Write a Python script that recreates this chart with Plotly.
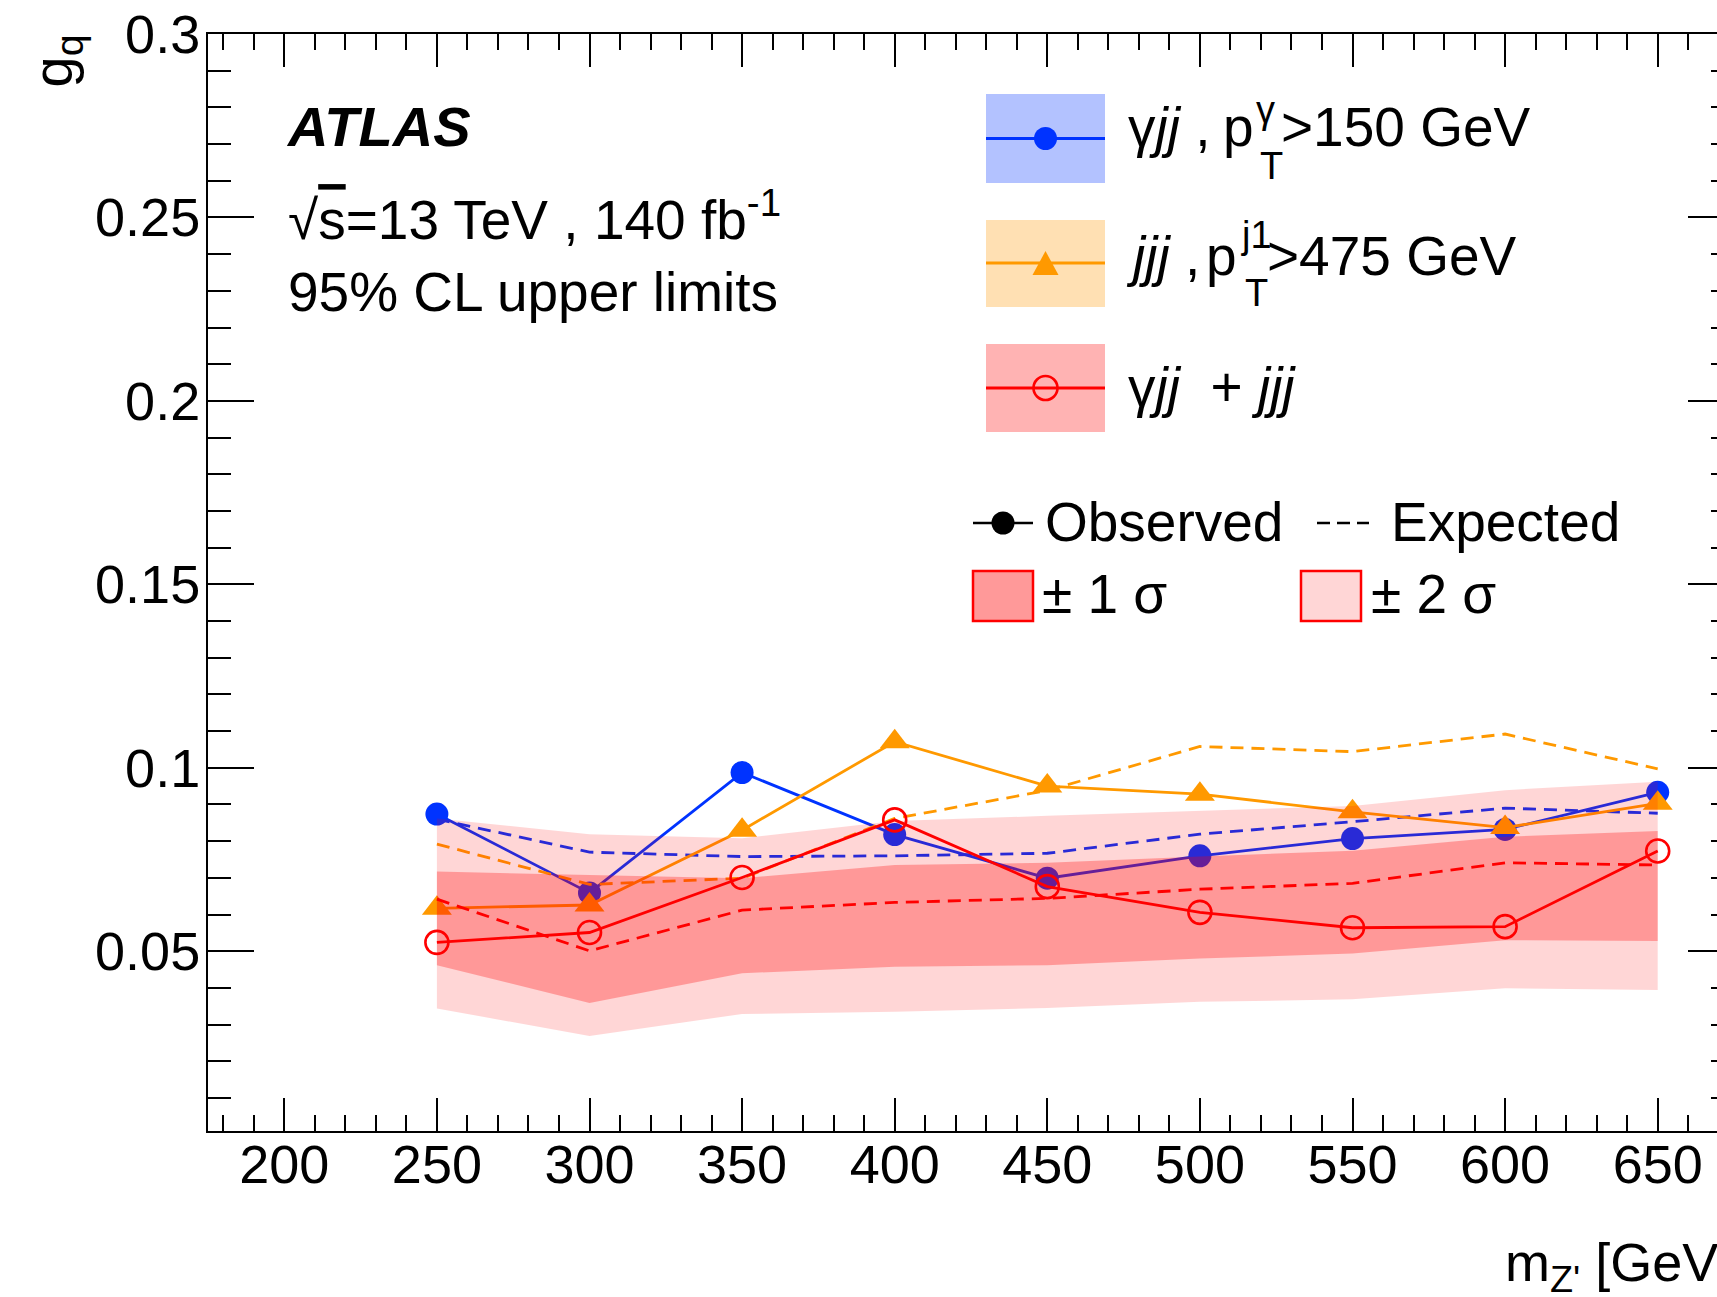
import plotly.graph_objects as go

# Z' mass points [GeV]
mass = [250, 300, 350, 400, 450, 500, 550, 600, 650]

# 95% CL upper limits on g_q
gjj_obs = [0.0874, 0.0659, 0.0987, 0.0818, 0.0699, 0.0760, 0.0807, 0.0832, 0.0933]
gjj_exp = [0.0860, 0.0770, 0.0758, 0.0760, 0.0767, 0.0819, 0.0853, 0.0890, 0.0876]
jjj_obs = [0.0617, 0.0626, 0.0830, 0.1071, 0.0950, 0.0928, 0.0880, 0.0837, 0.0903]
jjj_exp = [0.0792, 0.0682, 0.0699, 0.0862, 0.0938, 0.1058, 0.1044, 0.1092, 0.0997]
comb_obs = [0.0524, 0.0551, 0.0701, 0.0858, 0.0676, 0.0606, 0.0564, 0.0567, 0.0773]
comb_exp = [0.0642, 0.0501, 0.0612, 0.0633, 0.0644, 0.0669, 0.0685, 0.0741, 0.0735]
comb_p1 = [0.0717, 0.0708, 0.0699, 0.0735, 0.0741, 0.0758, 0.0774, 0.0812, 0.0828]
comb_m1 = [0.0462, 0.0359, 0.0440, 0.0458, 0.0462, 0.0480, 0.0494, 0.0530, 0.0528]
comb_p2 = [0.0862, 0.0819, 0.0808, 0.0855, 0.0869, 0.0882, 0.0896, 0.0939, 0.0962]
comb_m2 = [0.0344, 0.0269, 0.0329, 0.0335, 0.0345, 0.0362, 0.0369, 0.0399, 0.0394]

# axis ticks
x_ticks = [200, 250, 300, 350, 400, 450, 500, 550, 600, 650]
y_ticks = [0.05, 0.1, 0.15, 0.2, 0.25, 0.3]
y_tick_text = ["0.05", "0.1", "0.15", "0.2", "0.25", "0.3"]

# canvas geometry (pixels); the frame runs slightly past the right edge of the view
W, H = 1760, 1297
L, R, T, B = 208, 26, 34, 166
PW = W - L - R
PH = H - T - B


def px(x):
    return (x - L) / PW


def py(y):
    return (H - B - y) / PH


FONT = "Liberation Sans"
BLUE = "#0033ff"
ORANGE = "#ff9900"
RED = "#ff0000"
DASH = "13px,8px"
LW = 2.8

fig = go.Figure()

# gamma jj
fig.add_trace(go.Scatter(x=mass, y=gjj_exp, mode="lines",
                         line=dict(color=BLUE, width=LW, dash=DASH)))
fig.add_trace(go.Scatter(x=mass, y=gjj_obs, mode="lines+markers",
                         line=dict(color=BLUE, width=LW),
                         marker=dict(symbol="circle", size=23, color=BLUE, line=dict(width=0))))
# jjj
fig.add_trace(go.Scatter(x=mass, y=jjj_exp, mode="lines",
                         line=dict(color=ORANGE, width=LW, dash=DASH)))
fig.add_trace(go.Scatter(x=mass, y=jjj_obs, mode="lines+markers",
                         line=dict(color=ORANGE, width=LW),
                         marker=dict(symbol="triangle-up", size=26, color=ORANGE, line=dict(width=0))))
# combined expected bands (translucent, drawn over the single-channel curves)
fig.add_trace(go.Scatter(x=mass + mass[::-1], y=comb_p2 + comb_m2[::-1], mode="lines",
                         fill="toself", fillcolor="rgba(255,0,0,0.16)", line=dict(width=0)))
fig.add_trace(go.Scatter(x=mass + mass[::-1], y=comb_p1 + comb_m1[::-1], mode="lines",
                         fill="toself", fillcolor="rgba(255,0,0,0.285)", line=dict(width=0)))
# combined
fig.add_trace(go.Scatter(x=mass, y=comb_exp, mode="lines",
                         line=dict(color=RED, width=LW, dash=DASH)))
fig.add_trace(go.Scatter(x=mass, y=comb_obs, mode="lines+markers",
                         line=dict(color=RED, width=LW),
                         marker=dict(symbol="circle-open", size=23, color=RED, line=dict(width=2.6, color=RED))))

axis_common = dict(
    showline=True, linecolor="black", linewidth=2, mirror="allticks",
    ticks="inside", tickcolor="black", tickwidth=2,
    showgrid=False, zeroline=False, automargin=False,
    tickfont=dict(family=FONT, size=54, color="black"),
)

fig.update_xaxes(range=[175, 675], tickvals=x_ticks, ticklen=33, ticklabelstandoff=-15,
                 minor=dict(ticks="inside", dtick=10, tick0=0, ticklen=16,
                            tickwidth=2, tickcolor="black", showgrid=False),
                 **axis_common)
fig.update_yaxes(range=[0.001, 0.3], tickvals=y_ticks, ticktext=y_tick_text, ticklen=46,
                 ticklabelstandoff=-5,
                 minor=dict(ticks="inside", dtick=0.01, tick0=0, ticklen=23,
                            tickwidth=2, tickcolor="black", showgrid=False),
                 **axis_common)

annotations = []


def text(s, x, y, size=55, xanchor="left", yanchor="middle", **kw):
    annotations.append(dict(text=s, x=px(x), y=py(y), xref="paper", yref="paper",
                            xanchor=xanchor, yanchor=yanchor, showarrow=False, borderpad=0,
                            font=dict(family=FONT, size=size, color="black"), **kw))


# experiment labels
text("<b><i>ATLAS</i></b>", 285, 127, size=56)
text("√<span style='text-decoration:overline'>s</span>=13 TeV , 140 fb<sup>-1</sup>", 287, 216)
text("95% CL upper limits", 287, 292)

# legend entries
text("γ<i>jj</i> ,", 1127, 127)
text("p", 1222, 127)
text("γ", 1255, 110, size=38)
text("T", 1259, 166, size=38)
text(">150 GeV", 1280, 127)

text("<i>jjj</i> ,", 1125, 256)
text("p", 1205, 256)
text("j1", 1240, 235, size=38)
text("T", 1244, 293, size=38)
text(">475 GeV", 1266, 256)

text("γ<i>jj</i>  + <i>jjj</i>", 1127, 387)

text("Observed", 1044, 522)
text("Expected", 1390, 522)
text("± 1 σ", 1041, 594)
text("± 2 σ", 1370, 594)

# axis titles
text("m<sub>Z'</sub> [GeV]", 1734, 1266, size=54, xanchor="right")
text("g<sub>q</sub>", 56, 34, size=56, xanchor="center", yanchor="top", textangle=-90)

shapes = []


def rect(x0, y0, x1, y1, fill, line_color=None, lw=0):
    shapes.append(dict(type="rect", xref="paper", yref="paper",
                       x0=px(x0), x1=px(x1), y0=py(y1), y1=py(y0),
                       fillcolor=fill, line=dict(width=lw, color=line_color or fill), layer="above"))


def hline(x0, x1, y, color, width=3, dash="solid"):
    shapes.append(dict(type="line", xref="paper", yref="paper",
                       x0=px(x0), x1=px(x1), y0=py(y), y1=py(y),
                       line=dict(color=color, width=width, dash=dash), layer="above"))


def circle(cx, cy, r, fill, line_color, lw=0):
    shapes.append(dict(type="circle", xref="paper", yref="paper",
                       x0=px(cx - r), x1=px(cx + r), y0=py(cy + r), y1=py(cy - r),
                       fillcolor=fill, line=dict(color=line_color, width=lw), layer="above"))


def triangle(cx, cy, w, h, fill):
    p = "M {},{} L {},{} L {},{} Z".format(px(cx - w / 2), py(cy + h / 2),
                                          px(cx + w / 2), py(cy + h / 2),
                                          px(cx), py(cy - h / 2))
    shapes.append(dict(type="path", xref="paper", yref="paper", path=p,
                       fillcolor=fill, line=dict(width=0), layer="above"))


# channel legend boxes
rect(986, 94, 1105, 183, "#b3c2ff")
hline(986, 1105, 138.5, BLUE)
circle(1045.5, 138.5, 11.5, BLUE, BLUE)

rect(986, 220, 1105, 307, "#ffe0b3")
hline(986, 1105, 263, ORANGE)
triangle(1045.5, 263, 26, 24, ORANGE)

rect(986, 344, 1105, 432, "#ffb3b3")
hline(986, 1105, 388, RED)
circle(1045.5, 388, 12, "rgba(0,0,0,0)", RED, lw=2.6)

# style legend
hline(973, 1033, 523, "black", width=2.7)
circle(1003, 523, 11.5, "black", "black")
hline(1317, 1369, 523, "black", width=2.7, dash="13px,7px")
rect(973, 571, 1033, 621, "#ff9999", RED, 2.5)
rect(1301, 571, 1361, 621, "#ffd6d6", RED, 2.5)

fig.update_layout(
    width=W, height=H,
    margin=dict(l=L, r=R, t=T, b=B, pad=0),
    paper_bgcolor="white", plot_bgcolor="white",
    showlegend=False, hovermode=False,
    annotations=annotations, shapes=shapes,
)

fig.write_html("out.html",
               post_script="document.documentElement.style.overflow='hidden';"
                           "document.body.style.overflow='hidden';"
                           "document.body.style.margin='0';")
